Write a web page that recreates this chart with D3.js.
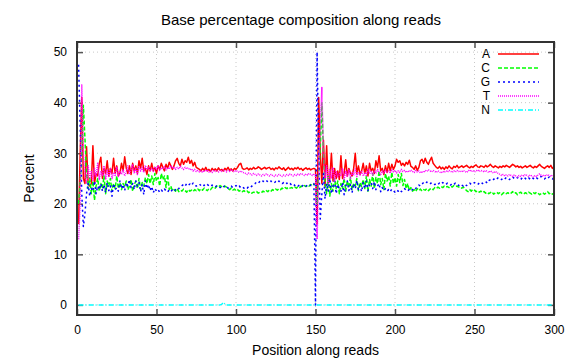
<!DOCTYPE html>
<html>
<head>
<meta charset="utf-8">
<script src="https://cdn.jsdelivr.net/npm/d3@7"></script>
<style>
  body { margin: 0; background: #fff; }
  text { font-family: "Liberation Sans", Arial, sans-serif; }
</style>
</head>
<body>
<svg id="chart"></svg>
<script>
// base percentage per position 1..300 (read 1: 1-150, read 2: 151-300)
const baseA = [
  16, 30, 41, 25, 24, 31.3, 24, 23.5, 24, 31.5, 24, 26, 25.5, 28, 29.2,
  25, 27, 26, 28.5, 25.5, 27, 26, 29, 26, 27.5, 25.5, 26, 28, 26.5, 29.3,
  27, 26, 27.5, 25.8, 28, 26.5, 27.5, 26, 28.5, 27, 29, 26.5, 27, 25.8, 27.5,
  26.5, 28, 26.5, 27.2, 26, 27.5, 26.8, 28, 27.2, 26.5, 27.8, 27, 28.2, 27.5, 26.8,
  27.5, 28.5, 29, 28, 27.5, 28.8, 27.8, 28.5, 28.2, 29.2, 28, 28.6, 27.5, 28.2, 27.2,
  27, 26.8, 26.5, 27, 26.6, 27.2, 26.5, 26.8, 26.4, 27, 26.6, 26.9, 26.5, 27.1, 26.6,
  26.8, 26.5, 27, 26.7, 27.2, 26.6, 26.9, 26.5, 27, 26.8, 27.2, 27.8, 28, 27, 26.8,
  26.9, 27.1, 26.7, 27, 26.8, 27.2, 26.9, 27, 27.3, 27.1, 26.8, 27, 27.2, 26.9, 27.1,
  27.2, 26.8, 27, 26.7, 27.1, 26.9, 27.3, 27, 26.8, 27.1, 26.6, 26.9, 27.2, 26.8, 27,
  26.7, 27.1, 26.9, 27.2, 26.8, 27, 26.6, 26.9, 27.1, 26.8, 27, 26.7, 26.9, 27, 26.8,
  16, 41, 30, 24, 32.6, 23.5, 31.5, 24, 25, 30, 24.5, 27, 25, 26.5, 24.8,
  29.5, 25, 26, 28.7, 25.5, 27, 26, 25.5, 27, 30, 26, 27.5, 25.8, 26.5, 28,
  26, 27.5, 25.5, 28, 26.5, 27, 26, 28.5, 27.2, 29.5, 26.5, 27, 25.8, 27.5, 26.2,
  28, 26.5, 27.8, 26.8, 27.5, 28.8, 28.2, 28.5, 27.6, 28, 27.5, 28.2, 27.8, 28.6, 27.4,
  27.2, 26.8, 27.5, 26.6, 27.2, 28.5, 28.8, 28, 29, 28.2, 27.8, 28.6, 29.2, 28, 27.6,
  27.2, 27, 27.4, 26.9, 27.2, 26.8, 27.3, 27, 27.5, 27.1, 26.9, 27.4, 27.2, 27.6, 27.1,
  27.3, 27.5, 27.2, 27.4, 27.6, 27.3, 27.1, 27.4, 27.2, 27.5, 27.7, 27.3, 27.2, 27.5, 27.4,
  27.2, 27.6, 27.3, 27.5, 27.8, 27.4, 27.2, 27.5, 27.3, 27.1, 27.4, 27.2, 27.5, 27.3, 27.6,
  27.4, 27.2, 27.5, 27.8, 27.6, 27.3, 27.5, 27.2, 27.4, 27.1, 27.3, 27.5, 27.2, 27.4, 27.6,
  27.3, 27.1, 27.4, 27.2, 27.5, 27.8, 27.4, 27.2, 27, 27.3, 27.5, 27.2, 27.6, 27, 27.3
];

const baseC = [
  20, 24, 30, 39.5, 33, 26, 23, 25, 22, 24.5, 20.7, 23.5, 25, 22.5, 24,
  23, 25.5, 22, 24.5, 23.5, 25, 22.5, 24, 23, 25.5, 23, 24.2, 22.8, 24, 23.5,
  24.5, 22.8, 23.5, 24.8, 22.5, 23.8, 24.5, 23, 25, 22.8, 24.2, 23.5, 25.2, 24, 25.8,
  24, 25.5, 23.8, 26, 24.5, 25.2, 23.5, 26, 24.8, 25.5, 23.2, 25.8, 22.8, 23.5, 22.6,
  22.8, 22.5, 23, 22.4, 22.7, 22.5, 22.9, 22.6, 22.3, 22.8, 22.5, 22.7, 22.4, 22.8, 22.6,
  22.9, 22.6, 23, 22.7, 23.1, 22.8, 22.6, 23, 22.8, 23.2, 23.4, 23.1, 23.5, 23.3, 23.6,
  23.4, 23.2, 23.5, 23.3, 23, 22.8, 23.1, 22.7, 22.9, 22.6, 22.8, 22.5, 22.7, 22.4, 22.6,
  22.3, 22.5, 22.2, 22.4, 22.1, 22.3, 22.2, 22.4, 22.1, 22.3, 22.2, 22.5, 22.3, 22.6, 22.4,
  22.7, 22.5, 22.8, 22.6, 22.9, 22.7, 23, 22.8, 23.1, 22.9, 23.2, 23, 23.3, 23.1, 23.2,
  23, 23.3, 23.1, 23.4, 23.2, 23.5, 23.3, 23.6, 23.4, 23.7, 23.5, 23.8, 23.6, 23.9, 23.7,
  20, 26, 31, 40, 30, 24, 22, 25.5, 21.5, 24, 22.5, 25, 23, 24.5, 22,
  24, 23, 25, 22.5, 24.5, 23.2, 25.2, 22.8, 24, 23.5, 25, 22.6, 24.2, 23.4, 24.8,
  23, 25.5, 22.5, 24.8, 23.5, 26, 23, 25.2, 24, 26.5, 23.8, 25, 22.8, 26, 24.5,
  25.5, 23.5, 26.2, 24, 25.2, 23.5, 25.8, 24.2, 26, 23.6, 24.8, 23, 24, 22.6, 23.2,
  22.5, 22.8, 22.4, 23, 22.6, 22.9, 22.5, 22.8, 22.7, 23, 22.6, 22.9, 23.1, 22.8, 23.2,
  23, 23.3, 23.1, 23.4, 23.2, 23.5, 23.3, 23.4, 23.2, 23.5, 23.3, 23.6, 23.4, 23.5, 23.3,
  23.4, 23.1, 23.3, 23, 22.6, 22.4, 22.8, 22.5, 22.9, 22.7, 22.4, 22.6, 22.3, 22.5, 22.2,
  22.4, 22.1, 22.3, 22, 22.2, 22.4, 21.9, 22.1, 22.3, 22, 22.2, 21.8, 22.1, 22.3, 22,
  22.2, 21.9, 22.1, 22.4, 22, 22.2, 21.8, 22.1, 22.3, 22, 21.9, 22.2, 22, 22.3, 22.1,
  21.9, 22.2, 22, 22.3, 22.1, 21.8, 22, 22.2, 21.9, 22.1, 22.4, 22, 22.2, 21.9, 22.1
];

const baseG = [
  47.5, 35, 22, 15.5, 18, 22, 24, 21.5, 23, 22.5, 24.5, 22, 23.5, 22.8, 24,
  22.5, 23.8, 22.2, 24.2, 22.6, 23.5, 21.5, 24, 22.8, 23.2, 22.5, 24.5, 23, 23.8, 22.6,
  24.2, 23.5, 24.8, 23.2, 24, 22.8, 24.5, 23.5, 24.2, 22.4, 23.8, 21.8, 24.5, 23, 23.8,
  22.6, 23.4, 22.2, 23, 22.5, 22.8, 22.3, 22.7, 22.4, 22.9, 22.6, 22.3, 22.8, 22.5, 22.7,
  22.4, 22.8, 22.6, 23, 23.4, 23.6, 23.8, 23.5, 24, 23.7, 23.9, 23.6, 24.1, 23.8, 23.5,
  23.7, 23.9, 23.6, 23.4, 23.7, 23.5, 23.8, 23.6, 23.4, 23.7, 23.5, 23.3, 23.6, 23.4, 23.2,
  23.5, 23.3, 23.6, 23.4, 23.1, 23.3, 23.5, 23.2, 23.4, 23.6, 23.3, 23.5, 23.2, 23.4, 23.1,
  23.3, 23.1, 23.4, 23.2, 23.5, 23.8, 24, 24.3, 24.1, 24.4, 24.2, 24.5, 24.3, 24.6, 24.4,
  24.2, 24.5, 24.3, 24.1, 24.4, 24.2, 24.5, 24.3, 24, 24.2, 23.9, 24.1, 23.8, 24, 23.7,
  23.9, 23.6, 23.8, 23.5, 23.7, 23.4, 23.6, 23.8, 23.5, 23.7, 23.9, 23.6, 23.8, 24, 0,
  50, 30, 17, 22, 26, 21, 24, 22.5, 25, 22, 23.5, 24.5, 22, 23.8, 22.8,
  22.5, 24.2, 21.8, 23.5, 24.5, 22.6, 23.8, 22.2, 24, 23, 24.6, 22.8, 23.6, 22.4, 24.2,
  23, 24.5, 22.6, 23.8, 24.2, 23, 24.4, 22.8, 23.5, 24, 22.4, 23.2, 22.6, 23, 22.5,
  22.8, 22.4, 22.9, 22.6, 22.3, 22.7, 22.5, 22.8, 22.4, 22.6, 23, 22.7, 22.5, 22.9, 22.6,
  22.8, 23.2, 23, 23.4, 23.7, 23.5, 23.9, 24.2, 24, 24.3, 24.1, 23.9, 24.2, 24, 23.8,
  24, 23.8, 24.1, 23.9, 24.2, 24, 23.8, 24.1, 23.9, 23.7, 24, 23.8, 24.1, 23.9, 23.6,
  23.9, 23.7, 23.5, 23.8, 23.6, 23.9, 24.1, 23.8, 24, 24.2, 24, 23.8, 24.1, 24.3, 24,
  24.2, 24.4, 24.1, 24.6, 24.8, 25, 24.8, 25.1, 24.9, 25.2, 25, 24.8, 25.1, 24.9, 25.2,
  25, 24.8, 25.1, 25.3, 25, 24.9, 25.2, 25, 24.8, 25.1, 25.3, 25, 24.8, 25.1, 24.9,
  25.2, 25, 24.8, 25.1, 24.9, 25.2, 25.4, 25.1, 24.9, 25.2, 25, 25.3, 25.1, 24.9, 25.2
];

const baseT = [
  13, 20, 43.5, 30, 26, 24, 27.5, 25, 26.5, 24.5, 27, 25.5, 28, 24.8, 26.5,
  25.5, 27.5, 24.8, 26.8, 25.2, 27, 25, 26.2, 25.6, 27.2, 25.4, 26.5, 25.8, 26.8, 25.5,
  26.2, 27.5, 25.8, 26.8, 27.8, 26, 27, 25.8, 27.5, 26.5, 27.2, 26.2, 27.6, 26.8, 27.2,
  26.5, 27, 26.4, 27.3, 26.8, 27.5, 26.6, 27.1, 26.9, 27.4, 26.7, 27.2, 26.9, 27.6, 27,
  27.3, 26.8, 27.2, 26.9, 27.4, 27.1, 26.8, 27.2, 26.9, 27.1, 26.7, 26.9, 26.5, 26.8, 26.4,
  26.6, 26.3, 26.5, 26.2, 26.6, 26.4, 26.7, 26.3, 26.5, 26.2, 26.6, 26.4, 26.5, 26.3, 26.6,
  26.4, 26.7, 26.5, 26.3, 26.6, 26.4, 26.8, 26.5, 26.3, 26.6, 26.4, 26.2, 26.5, 26.3, 26.1,
  26, 25.8, 26.1, 25.9, 25.7, 26, 25.8, 25.6, 25.9, 25.7, 25.5, 25.8, 25.6, 25.9, 25.7,
  25.5, 25.8, 25.6, 25.4, 25.7, 25.5, 25.8, 25.6, 25.4, 25.7, 25.5, 25.8, 25.6, 25.9, 25.7,
  25.5, 25.8, 25.6, 25.9, 25.7, 26, 25.8, 25.6, 25.9, 25.7, 26, 25.8, 25.6, 25.9, 25.7,
  13, 26, 36, 43, 30, 25, 27.5, 24, 26.8, 25, 27.2, 24.5, 26.5, 25.2, 26,
  25.5, 27, 24.8, 26.5, 25.3, 26.8, 25, 26.2, 25.6, 26.9, 25.4, 26.3, 25.7, 26.6, 25.5,
  26.2, 25.6, 26.8, 25.9, 26.4, 25.7, 26.5, 26, 26.8, 26.2, 25.8, 26.5, 26.1, 26.7, 26.3,
  26.5, 26, 26.8, 26.3, 26.6, 26.1, 26.5, 26.2, 26.8, 26.4, 26.6, 26.2, 26.5, 26.3, 26.7,
  26.4, 26.2, 26.6, 26.3, 26.5, 26.1, 26.4, 26.2, 26.6, 26.4, 26.7, 26.5, 26.3, 26.6, 26.4,
  26.2, 26.5, 26.3, 26.1, 26.4, 26.2, 26.5, 26.3, 26.6, 26.4, 26.2, 26.5, 26.3, 26.6, 26.4,
  26.5, 26.3, 26.6, 26.4, 26.2, 26.5, 26.7, 26.4, 26.6, 26.3, 26.5, 26.7, 26.4, 26.6, 26.5,
  26.3, 26.6, 26.4, 26.2, 26.5, 26.3, 26.1, 26.4, 26.2, 26, 25.8, 25.6, 25.8, 25.5, 25.7,
  25.5, 25.8, 25.6, 25.4, 25.7, 25.5, 25.3, 25.6, 25.4, 25.7, 25.5, 25.8, 25.6, 25.4, 25.7,
  25.5, 25.3, 25.6, 25.4, 25.7, 25.9, 25.6, 25.4, 25.7, 25.5, 25.8, 25.6, 25.4, 25.7, 25.5
];

const baseN = [
  0, 0, 0, 0, 0, 0, 0, 0, 0, 0, 0, 0, 0, 0, 0,
  0, 0, 0, 0, 0, 0, 0, 0, 0, 0, 0, 0, 0, 0, 0,
  0, 0, 0, 0, 0, 0, 0, 0, 0, 0, 0, 0, 0, 0, 0,
  0, 0, 0, 0, 0, 0, 0, 0, 0, 0, 0, 0, 0, 0, 0,
  0, 0, 0, 0, 0, 0, 0, 0, 0, 0, 0, 0, 0, 0, 0,
  0, 0, 0, 0, 0, 0, 0, 0, 0, 0, 0, 0, 0, 0, 0,
  0.1, 0.5, 0.2, 0, 0, 0, 0, 0, 0, 0, 0, 0, 0, 0, 0,
  0, 0, 0, 0, 0, 0, 0, 0, 0, 0, 0, 0, 0, 0, 0,
  0, 0, 0, 0, 0, 0, 0, 0, 0, 0, 0, 0, 0, 0, 0,
  0, 0, 0, 0, 0, 0, 0, 0, 0, 0, 0, 0, 0, 0, 0,
  0, 0, 0, 0, 0, 0, 0, 0, 0, 0, 0, 0, 0, 0, 0,
  0, 0, 0, 0, 0, 0, 0, 0, 0, 0, 0, 0, 0, 0, 0,
  0, 0, 0, 0, 0, 0, 0, 0, 0, 0, 0, 0, 0, 0, 0,
  0, 0, 0, 0, 0, 0, 0, 0, 0, 0, 0, 0, 0, 0, 0,
  0, 0, 0, 0, 0, 0, 0, 0, 0, 0, 0, 0, 0, 0, 0,
  0, 0, 0, 0, 0, 0, 0, 0, 0, 0, 0, 0, 0, 0, 0,
  0, 0, 0, 0, 0, 0, 0, 0, 0, 0, 0, 0, 0, 0, 0,
  0, 0, 0, 0, 0, 0, 0, 0, 0, 0, 0, 0, 0, 0, 0,
  0, 0, 0, 0, 0, 0, 0, 0, 0, 0, 0, 0, 0, 0, 0,
  0, 0, 0, 0, 0, 0, 0, 0, 0, 0, 0, 0, 0, 0, 0.2
];

const seriesNames = ['A', 'C', 'G', 'T', 'N'];
const xTicks = [0, 50, 100, 150, 200, 250, 300];
const yTicks = [0, 10, 20, 30, 40, 50];

const width = 576, height = 360;
const margin = {top: 42, right: 22, bottom: 45, left: 77};

const styles = {
    A: {color: '#ff0000', dash: null},
    C: {color: '#00ff00', dash: '4,2'},
    G: {color: '#0000ff', dash: '2,3'},
    T: {color: '#ff00ff', dash: '1,1'},
    N: {color: '#00ffff', dash: '5,2,1,2'}
};

const svg = d3.select('#chart')
    .attr('width', width)
    .attr('height', height);

const x = d3.scaleLinear().domain([0, 300]).range([margin.left, width - margin.right]);
const y = d3.scaleLinear().domain([-2, 52]).range([height - margin.bottom, margin.top]);

// grid
svg.append('g')
    .selectAll('line')
    .data(xTicks.slice(1, -1))
    .join('line')
        .attr('x1', d => x(d)).attr('x2', d => x(d))
        .attr('y1', y.range()[0]).attr('y2', y.range()[1])
        .attr('stroke', '#c8c8c8')
        .attr('stroke-dasharray', '1,3');

svg.append('g')
    .selectAll('line')
    .data(yTicks)
    .join('line')
        .attr('x1', x.range()[0]).attr('x2', x.range()[1])
        .attr('y1', d => y(d)).attr('y2', d => y(d))
        .attr('stroke', '#c8c8c8')
        .attr('stroke-dasharray', '1,3');

// axes (ticks inside, mirrored)
const axisBottom = d3.axisBottom(x).tickValues(xTicks).tickSize(-6).tickPadding(10);
const axisTop = d3.axisTop(x).tickValues(xTicks).tickSize(-6).tickFormat('');
const axisLeft = d3.axisLeft(y).tickValues(yTicks).tickSize(-6).tickPadding(10);
const axisRight = d3.axisRight(y).tickValues(yTicks).tickSize(-6).tickFormat('');

function styleAxis(g) {
    g.select('.domain').remove();
    g.selectAll('.tick line').attr('stroke', '#555').attr('stroke-width', 1.5);
    g.selectAll('.tick text').attr('fill', '#000').style('font-size', '12px')
        .style('font-family', '"Liberation Sans", Arial, sans-serif');
}

svg.append('g').attr('transform', `translate(0,${y.range()[0]})`).call(axisBottom).call(styleAxis);
svg.append('g').attr('transform', `translate(0,${y.range()[1]})`).call(axisTop).call(styleAxis);
svg.append('g').attr('transform', `translate(${x.range()[0]},0)`).call(axisLeft).call(styleAxis);
svg.append('g').attr('transform', `translate(${x.range()[1]},0)`).call(axisRight).call(styleAxis);

// series
svg.append('clipPath').attr('id', 'clip')
    .append('rect')
        .attr('x', x.range()[0]).attr('y', y.range()[1])
        .attr('width', x.range()[1] - x.range()[0])
        .attr('height', y.range()[0] - y.range()[1]);

const seriesData = {A: baseA, C: baseC, G: baseG, T: baseT, N: baseN};

// positions are 1-based
const line = d3.line()
    .x((d, i) => x(i + 1))
    .y(d => y(d));

svg.append('g')
    .attr('clip-path', 'url(#clip)')
    .selectAll('path')
    .data(seriesNames)
    .join('path')
        .attr('d', d => line(seriesData[d]))
        .attr('fill', 'none')
        .attr('stroke', d => styles[d].color)
        .attr('stroke-width', 1.5)
        .attr('stroke-dasharray', d => styles[d].dash)
        .attr('stroke-linejoin', 'round');

// border
svg.append('rect')
    .attr('x', x.range()[0]).attr('y', y.range()[1])
    .attr('width', x.range()[1] - x.range()[0])
    .attr('height', y.range()[0] - y.range()[1])
    .attr('fill', 'none')
    .attr('stroke', '#333')
    .attr('stroke-width', 2);

// legend
const legend = svg.append('g')
    .selectAll('g')
    .data(seriesNames)
    .join('g')
        .attr('transform', (d, i) => `translate(0,${54 + i * 14})`);

legend.append('text')
    .attr('x', 490)
    .attr('dy', '0.36em')
    .attr('text-anchor', 'end')
    .style('font-size', '12px')
    .text(d => d);

legend.append('line')
    .attr('x1', 498).attr('x2', 539)
    .attr('stroke', d => styles[d].color)
    .attr('stroke-width', 1.5)
    .attr('stroke-dasharray', d => styles[d].dash);

// titles
svg.append('text')
    .attr('x', 301)
    .attr('y', 25)
    .attr('text-anchor', 'middle')
    .style('font-size', '15px')
    .text('Base percentage composition along reads');

svg.append('text')
    .attr('x', (x.range()[0] + x.range()[1]) / 2)
    .attr('y', 355)
    .attr('text-anchor', 'middle')
    .style('font-size', '14px')
    .text('Position along reads');

svg.append('text')
    .attr('transform', `translate(34,${(y.range()[0] + y.range()[1]) / 2}) rotate(-90)`)
    .attr('text-anchor', 'middle')
    .style('font-size', '14px')
    .text('Percent');
</script>
</body>
</html>
